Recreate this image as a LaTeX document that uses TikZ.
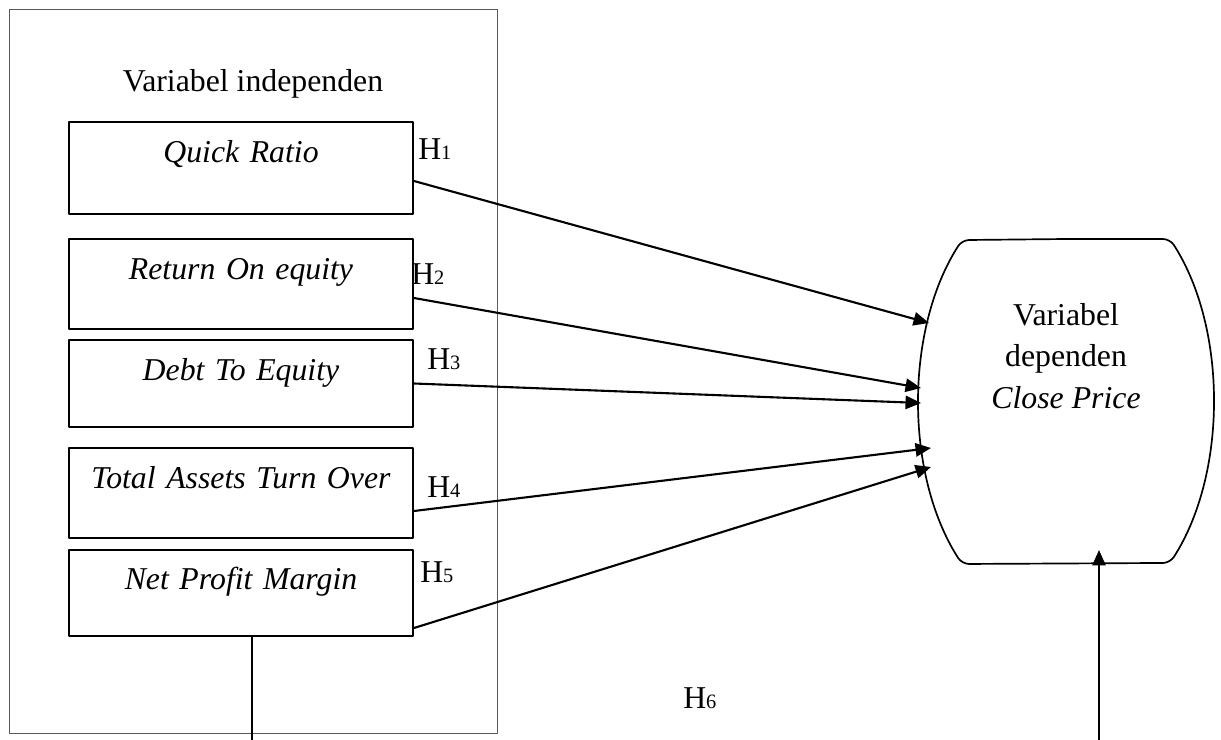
\documentclass[tikz,border=0pt]{standalone}
\usepackage{fontspec}
\setmainfont{Liberation Serif}
\usetikzlibrary{arrows.meta,calc}

\newcommand{\hipo}[1]{H{\fontsize{14.5}{14.5}\selectfont #1}}

\begin{document}
\begin{tikzpicture}[
  x=0.025cm,
  y=-0.025cm,
  line cap=round,
  line join=round,
  font=\fontsize{22.6}{29.5}\selectfont,
  kotak/.style={
    draw,
    line width=1.3pt,
    inner sep=0pt,
    text width=8.6cm,
    align=center,
    anchor=base,
    font=\fontsize{22.6}{29.5}\selectfont\itshape
  },
  panah/.style={
    line width=1.5pt,
    -{Triangle[length=11pt,width=9.5pt]}
  },
  hlabel/.style={
    anchor=base west,
    inner sep=0pt
  }
]
  \useasboundingbox (0,0) rectangle (1221,740);

  % Kotak luar variabel independen
  \draw[line width=0.7pt,black!65]
    (9,9) rectangle (497,733);

  \node[anchor=base] (judul) at (253,92)
    {Variabel independen};

  % Lima variabel independen
  \node[kotak,text height=1.025cm,text depth=1.275cm]
    (qr) at (241,163) {Quick Ratio};

  \node[kotak,text height=1.025cm,text depth=1.225cm]
    (roe) at (241,280) {Return On equity};

  \node[kotak,text height=1.025cm,text depth=1.15cm]
    (der) at (241,381) {Debt To Equity};

  \node[kotak,text height=1.0cm,text depth=1.25cm]
    (tato) at (241,488) {Total Assets Turn Over};

  \node[kotak,text height=0.975cm,text depth=1.175cm]
    (npm) at (241,589) {Net Profit Margin};

  % Label hipotesis
  \node[hlabel] (h1) at (418,160) {\hipo{1}};
  \node[hlabel] (h2) at (411,285) {\hipo{2}};
  \node[hlabel] (h3) at (427,370) {\hipo{3}};
  \node[hlabel] (h4) at (427,497) {\hipo{4}};
  \node[hlabel] (h5) at (420,582) {\hipo{5}};
  \node[hlabel] (h6) at (683,708) {\hipo{6}};

  % Variabel dependen:
  % elips a = 147, b = 229, dipotong atas dan bawah
  \coordinate (dep) at (1066,401);

  \draw[line width=1.2pt,rounded corners=5pt]
    (1066,239) -- (1170,239)
    arc[
      start angle=45,
      end angle=-45,
      x radius=3.675cm,
      y radius=5.725cm
    ]
    -- (962,564)
    arc[
      start angle=225,
      end angle=135,
      x radius=3.675cm,
      y radius=5.725cm
    ]
    -- cycle;

  \node[align=center] (dept) at (1066,356)
    {Variabel\\dependen\\\textit{Close Price}};

  % Ujung panah pada sisi kiri
  \coordinate (t1) at (929,323);
  \coordinate (t2) at (921,388);
  \coordinate (t3) at (921,403);
  \coordinate (t4) at (931,448);
  \coordinate (t5) at (931,467);

  \draw[panah] ($(qr.east)+(0,13)$) -- (t1);
  \draw[panah] ($(roe.east)+(0,14)$) -- (t2);
  \draw[panah] (der.east) -- (t3);
  \draw[panah] ($(tato.east)+(0,18)$) -- (t4);
  \draw[panah] ($(npm.east)+(0,35)$) -- (t5);

  % Garis bawah (H6)
  \coordinate (kiribawah) at (252,740);
  \coordinate (kananbawah) at (1099,740);
  \coordinate (tujuan) at (1099,550);

  \draw[line width=0.9pt]
    ($(npm.south)+(11,0)$) -- (kiribawah);

  \draw[panah,line width=1.2pt]
    (kananbawah) -- (tujuan);
\end{tikzpicture}
\end{document}
